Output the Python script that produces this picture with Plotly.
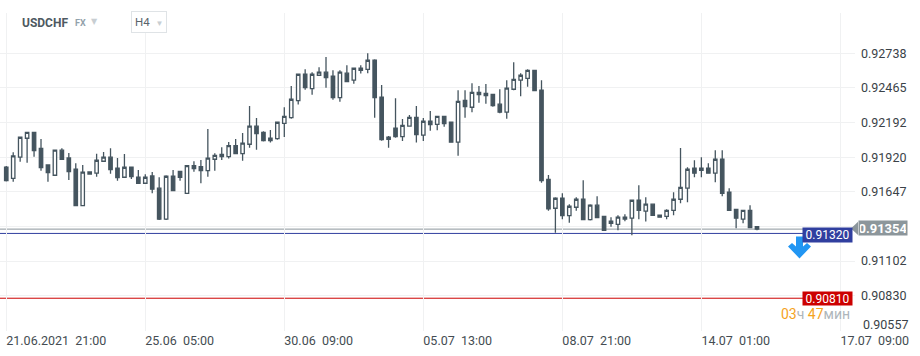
import plotly.graph_objects as go

# ---------------- data ----------------
symbol = "USDCHF"
timeframe = "H4"

x_tick_labels = ["21.06.2021\u00a0\u00a021:00", "25.06\u00a0\u00a005:00", "30.06\u00a0\u00a009:00",
                 "05.07\u00a0\u00a013:00", "08.07\u00a0\u00a021:00", "14.07\u00a0\u00a001:00",
                 "17.07\u00a0\u00a009:00"]
x_tick_index = [0, 20, 40, 60, 80, 100, 120]

y_tick_values = [0.92738, 0.92465, 0.92192, 0.91920, 0.91647, 0.91375, 0.91102, 0.90830, 0.90557]
y_tick_labels = ["0.92738", "0.92465", "0.92192", "0.91920", "0.91647", "", "0.91102", "0.90830", ""]

opens = [0.91841, 0.91754, 0.91920, 0.92069, 0.92116, 0.91990, 0.91859, 0.91778, 0.91975, 0.91914,
         0.91825, 0.91539, 0.91786, 0.91794, 0.91888, 0.91920, 0.91833, 0.91762, 0.91841, 0.91762,
         0.91715, 0.91772, 0.91676, 0.91432, 0.91770, 0.91809, 0.91636, 0.91853, 0.91846, 0.91814,
         0.91904, 0.91924, 0.91924, 0.92011, 0.91948, 0.92022, 0.92164, 0.92116, 0.92050, 0.92066,
         0.92187, 0.92231, 0.92365, 0.92573, 0.92459, 0.92565, 0.92589, 0.92557, 0.92389, 0.92581,
         0.92526, 0.92604, 0.92612, 0.92683, 0.92392, 0.92061, 0.92148, 0.92082, 0.92164, 0.92234,
         0.92093, 0.92203, 0.92179, 0.92242, 0.92195, 0.92038, 0.92368, 0.92313, 0.92431, 0.92423,
         0.92415, 0.92337, 0.92274, 0.92455, 0.92526, 0.92541, 0.92604, 0.92447, 0.91746, 0.91518,
         0.91597, 0.91460, 0.91526, 0.91589, 0.91428, 0.91542, 0.91455, 0.91416, 0.91392, 0.91432,
         0.91440, 0.91581, 0.91495, 0.91550, 0.91463, 0.91455, 0.91502, 0.91589, 0.91676, 0.91833,
         0.91817, 0.91833, 0.91794, 0.91904, 0.91644, 0.91510, 0.91432, 0.91502, 0.91374]
highs = [0.91851, 0.91959, 0.92080, 0.92118, 0.92118, 0.92064, 0.91859, 0.91978, 0.91990, 0.91953,
         0.91872, 0.91859, 0.91806, 0.91948, 0.91961, 0.91990, 0.91914, 0.91946, 0.91843, 0.91820,
         0.91786, 0.91804, 0.91762, 0.91778, 0.91820, 0.91811, 0.91859, 0.91888, 0.91898, 0.92142,
         0.91951, 0.91998, 0.92040, 0.92064, 0.92111, 0.92323, 0.92229, 0.92124, 0.92134, 0.92195,
         0.92313, 0.92481, 0.92575, 0.92612, 0.92589, 0.92628, 0.92709, 0.92604, 0.92604, 0.92644,
         0.92622, 0.92644, 0.92738, 0.92690, 0.92489, 0.92087, 0.92384, 0.92221, 0.92252, 0.92323,
         0.92229, 0.92284, 0.92244, 0.92244, 0.92197, 0.92447, 0.92447, 0.92502, 0.92481, 0.92497,
         0.92417, 0.92455, 0.92526, 0.92667, 0.92581, 0.92612, 0.92606, 0.92526, 0.91780, 0.91605,
         0.91636, 0.91550, 0.91605, 0.91738, 0.91550, 0.91613, 0.91457, 0.91448, 0.91463, 0.91471,
         0.91583, 0.91699, 0.91605, 0.91552, 0.91465, 0.91510, 0.91644, 0.91993, 0.91841, 0.91896,
         0.91920, 0.91872, 0.91975, 0.91975, 0.91676, 0.91512, 0.91504, 0.91542, 0.91376]
lows = [0.91729, 0.91727, 0.91885, 0.91877, 0.91924, 0.91814, 0.91727, 0.91772, 0.91904, 0.91741,
        0.91535, 0.91535, 0.91784, 0.91767, 0.91886, 0.91790, 0.91735, 0.91760, 0.91749, 0.91709,
        0.91713, 0.91636, 0.91426, 0.91426, 0.91657, 0.91735, 0.91634, 0.91806, 0.91715, 0.91767,
        0.91814, 0.91898, 0.91909, 0.91948, 0.91893, 0.91995, 0.91979, 0.92043, 0.92035, 0.92058,
        0.92079, 0.92223, 0.92334, 0.92451, 0.92412, 0.92563, 0.92467, 0.92373, 0.92357, 0.92513,
        0.92499, 0.92578, 0.92581, 0.92231, 0.92050, 0.91995, 0.92074, 0.92047, 0.92162, 0.92035,
        0.92047, 0.92129, 0.92132, 0.92160, 0.92036, 0.91932, 0.92231, 0.92274, 0.92349, 0.92341,
        0.92318, 0.92266, 0.92223, 0.92447, 0.92400, 0.92475, 0.92442, 0.91719, 0.91499, 0.91326,
        0.91432, 0.91405, 0.91499, 0.91426, 0.91421, 0.91444, 0.91343, 0.91373, 0.91345, 0.91416,
        0.91306, 0.91432, 0.91413, 0.91461, 0.91446, 0.91432, 0.91463, 0.91558, 0.91566, 0.91762,
        0.91762, 0.91792, 0.91723, 0.91613, 0.91500, 0.91361, 0.91400, 0.91366, 0.91345]
closes = [0.91735, 0.91930, 0.92077, 0.92116, 0.91972, 0.91838, 0.91798, 0.91975, 0.91904, 0.91806,
          0.91539, 0.91802, 0.91804, 0.91896, 0.91920, 0.91822, 0.91759, 0.91841, 0.91767, 0.91715,
          0.91762, 0.91668, 0.91432, 0.91770, 0.91657, 0.91762, 0.91853, 0.91830, 0.91814, 0.91912,
          0.91935, 0.91943, 0.92011, 0.91948, 0.92030, 0.92164, 0.92105, 0.92050, 0.92069, 0.92195,
          0.92242, 0.92376, 0.92573, 0.92467, 0.92573, 0.92589, 0.92546, 0.92389, 0.92589, 0.92515,
          0.92620, 0.92620, 0.92683, 0.92389, 0.92058, 0.92077, 0.92082, 0.92171, 0.92234, 0.92097,
          0.92203, 0.92176, 0.92242, 0.92184, 0.92038, 0.92360, 0.92318, 0.92431, 0.92412, 0.92404,
          0.92326, 0.92274, 0.92463, 0.92533, 0.92565, 0.92604, 0.92444, 0.91735, 0.91513, 0.91597,
          0.91460, 0.91534, 0.91589, 0.91428, 0.91542, 0.91444, 0.91345, 0.91400, 0.91448, 0.91448,
          0.91581, 0.91502, 0.91550, 0.91463, 0.91448, 0.91502, 0.91589, 0.91683, 0.91825, 0.91794,
          0.91833, 0.91794, 0.91904, 0.91636, 0.91502, 0.91440, 0.91502, 0.91366, 0.91354]

current_price = 0.91354
order_price = 0.91320
stop_price = 0.90810
bottom_label_price = 0.90557
countdown_hours = "03"
countdown_minutes = "47"

# ---------------- figure ----------------
W, H = 920, 356
ML, MR, MT, MB = 0, 65, 13, 25
plot_w = W - ML - MR
plot_h = H - MT - MB

candle_index = list(range(len(opens)))
CANDLE = "#45555f"
FONT = "Roboto"

fig = go.Figure()
fig.add_trace(go.Candlestick(
    x=candle_index, open=opens, high=highs, low=lows, close=closes,
    increasing=dict(line=dict(color=CANDLE, width=1.3), fillcolor="#ffffff"),
    decreasing=dict(line=dict(color=CANDLE, width=1.3), fillcolor=CANDLE),
    whiskerwidth=0, hoverinfo="skip", showlegend=False,
))


def py(ypx):
    """paper y from a pixel row of the page"""
    return (H - MB - ypx) / plot_h


def px(xpx):
    return (xpx - ML) / plot_w


shapes = [
    dict(type="line", xref="paper", yref="y", x0=0, x1=1, y0=current_price, y1=current_price,
         line=dict(color="#8c969b", width=1), layer="between"),
    dict(type="line", xref="paper", yref="y", x0=0, x1=px(806), y0=order_price, y1=order_price,
         line=dict(color="#303f9f", width=1), layer="between"),
    dict(type="line", xref="paper", yref="y", x0=0, x1=px(806), y0=stop_price, y1=stop_price,
         line=dict(color="#cc0000", width=1), layer="between"),
    # pointer of the current price tag
    dict(type="path", xref="paper", yref="y", xsizemode="pixel", ysizemode="pixel",
         xanchor=1, yanchor=current_price,
         path="M -4,0.7 L 3,7.4 L 3,-6 Z", fillcolor="#8c969b", line=dict(width=0), layer="above"),
    # blue sell arrow
    dict(type="path", xref="paper", yref="y", xsizemode="pixel", ysizemode="pixel",
         xanchor=px(799.5), yanchor=order_price,
         path="M -3.5,-3 L 3.5,-3 L 3.5,-13 L 7.5,-9.5 L 11.5,-13 L 0,-25 L -11.5,-13 L -7.5,-9.5 L -3.5,-13 Z",
         fillcolor="#2196f3", line=dict(width=0), layer="above"),
]

annotations = [
    dict(xref="paper", yref="paper", x=px(20), y=py(22.5), xanchor="left", yanchor="middle",
         text="<b>" + symbol + "</b>", showarrow=False,
         font=dict(family=FONT, size=12, color="#4e5961")),
    dict(xref="paper", yref="paper", x=px(73), y=py(22.5), xanchor="left", yanchor="middle",
         text="<b>FX</b>", showarrow=False, font=dict(family=FONT, size=9, color="#93a2ab")),
    dict(xref="paper", yref="paper", x=px(89), y=py(21), xanchor="left", yanchor="middle",
         text="▼", showarrow=False, font=dict(family="DejaVu Sans", size=8, color="#c8ced2")),
    dict(xref="paper", yref="paper", x=px(131), y=py(22), xanchor="left", yanchor="middle",
         text=timeframe + "\u00a0\u00a0<span style='font-size:8px;color:#c8ced2'>▼</span>",
         showarrow=False, bgcolor="#ffffff", bordercolor="#dfe3e6", borderwidth=1, borderpad=3,
         font=dict(family=FONT, size=11.5, color="#5a646b")),
    # price tags
    dict(xref="paper", yref="y", x=1, y=current_price, xshift=3, yshift=0.7, xanchor="left",
         yanchor="middle", text="<b>%.5f</b>" % current_price, showarrow=False, bgcolor="#8c969b",
         width=46, height=12, borderpad=1, font=dict(family=FONT, size=13, color="#ffffff")),
    dict(xref="paper", yref="y", x=px(853), y=order_price, yshift=-2, xanchor="right",
         yanchor="middle", text="%.5f" % order_price, showarrow=False, bgcolor="#303f9f",
         width=47, height=12, borderpad=1, font=dict(family=FONT, size=12, color="#ffffff")),
    dict(xref="paper", yref="y", x=px(853), y=stop_price, yshift=0, xanchor="right",
         yanchor="middle", text="%.5f" % stop_price, showarrow=False, bgcolor="#cc0000",
         width=47, height=11, borderpad=1, font=dict(family=FONT, size=12, color="#ffffff")),
    dict(xref="paper", yref="y", x=1, y=bottom_label_price, xshift=6, yshift=6, xanchor="left",
         yanchor="middle", text="%.5f" % bottom_label_price, showarrow=False,
         font=dict(family=FONT, size=12.5, color="#3a4248")),
    dict(xref="paper", yref="paper", x=px(852), y=py(313.5), xanchor="right", yanchor="middle",
         text="<span style='color:#f5a31e'>" + countdown_hours + "</span>"
              "<span style='color:#aeb6bb'>ч</span> "
              "<span style='color:#f5a31e'>" + countdown_minutes + "</span>"
              "<span style='color:#aeb6bb'>мин</span>",
         showarrow=False, font=dict(family=FONT, size=14)),
]

fig.update_layout(
    width=W, height=H,
    margin=dict(l=ML, r=MR, t=MT, b=MB, autoexpand=False),
    paper_bgcolor="#ffffff", plot_bgcolor="#ffffff",
    showlegend=False,
    shapes=shapes, annotations=annotations,
    xaxis=dict(range=[-0.9, 122.1], tickvals=x_tick_index, ticktext=x_tick_labels,
               showgrid=True, gridcolor="#f0f1f2", gridwidth=1, zeroline=False, showline=False,
               ticks="", ticklabelposition="outside right",
               tickfont=dict(family=FONT, size=12.5, color="#444c52"),
               rangeslider=dict(visible=False), fixedrange=True),
    yaxis=dict(range=[0.90552, 0.93055], side="right", tickvals=y_tick_values,
               ticktext=y_tick_labels, showgrid=True, gridcolor="#f0f1f2", gridwidth=1,
               zeroline=False, showline=False, ticks="", ticklabelstandoff=5,
               tickfont=dict(family=FONT, size=12.5, color="#3a4248"), fixedrange=True),
)

fig.write_html("out.html", config={"displayModeBar": False},
               post_script="document.body.style.margin='0px';document.body.style.overflow='hidden';")
